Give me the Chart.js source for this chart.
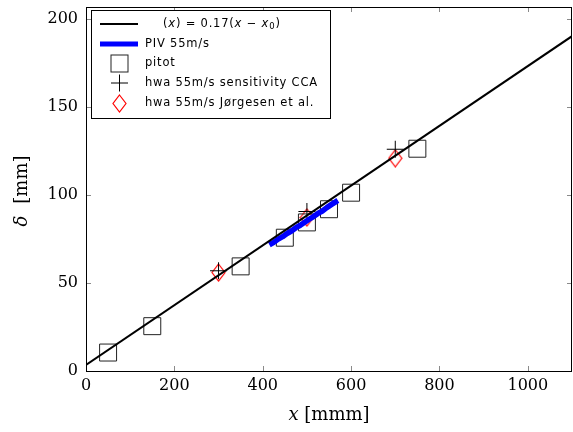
<!DOCTYPE html>
<html><head><meta charset="utf-8">
<script src="https://cdn.jsdelivr.net/npm/chart.js@4/dist/chart.umd.min.js"></script>
<style>html,body{margin:0;padding:0;background:#fff}#wrap{width:573px;height:432px}</style>
</head><body><div id="wrap"><canvas id="c" width="573" height="432"></canvas></div>
<script>
// ---- data ----
const fitX = [0, 1100];
const fitY = [3.4, 190.4];
const pivX = [415, 425, 435, 445, 455, 465, 475, 485, 495, 505, 515, 525, 535, 545, 555, 565, 570];
const pivY = [71.8, 73.2, 75.0, 76.4, 78.2, 79.6, 81.5, 82.9, 84.6, 86.3, 87.8, 89.6, 91.0, 92.9, 94.6, 96.2, 97.0];
const pitotX = [50, 150, 350, 450, 500, 550, 600, 750];
const pitotY = [10.5, 25.5, 59.5, 75.8, 84.5, 92.0, 101.4, 126.4];
const ccaX = [300, 500, 700];
const ccaY = [57.0, 90.7, 126.1];
const jorX = [300, 500, 700];
const jorY = [56.0, 87.3, 121.0];
const xTicks = [0, 200, 400, 600, 800, 1000];
const yTicks = [0, 50, 100, 150, 200];
const seriesLabels = ['(x) = 0.17(x \u2212 x\u2080)', 'PIV 55m/s', 'pitot', 'hwa 55m/s sensitivity CCA', 'hwa 55m/s J\u00f8rgesen et al.'];
const xTitle = ['x', ' [mmm]'];
const yTitle = ['\u03b4', '[mm]'];

const pts = (xs, ys) => xs.map((x, i) => ({x: x, y: ys[i]}));

function diamondImg() {
  const c = document.createElement('canvas');
  c.width = 15; c.height = 19;
  const g = c.getContext('2d');
  g.strokeStyle = '#ff0000'; g.lineWidth = 1.2;
  g.beginPath(); g.moveTo(7.5, 1); g.lineTo(14, 9.5); g.lineTo(7.5, 18); g.lineTo(1, 9.5); g.closePath(); g.stroke();
  return c;
}
const dia = diamondImg();

const frameTicks = {
  id: 'frameTicks',
  afterDatasetsDraw(chart) {
    const {ctx, chartArea: a, scales} = chart;
    ctx.save();
    ctx.strokeStyle = '#8a8a8a'; ctx.lineWidth = 1;
    ctx.beginPath();
    xTicks.forEach(v => {
      const p = Math.round(scales.x.getPixelForValue(v)) + 0.5;
      ctx.moveTo(p, a.bottom); ctx.lineTo(p, a.bottom - 5);
      ctx.moveTo(p, a.top); ctx.lineTo(p, a.top + 5);
    });
    yTicks.forEach(v => {
      const p = Math.round(scales.y.getPixelForValue(v)) + 0.5;
      ctx.moveTo(a.left, p); ctx.lineTo(a.left + 5, p);
      ctx.moveTo(a.right, p); ctx.lineTo(a.right - 5, p);
    });
    ctx.stroke();
    ctx.strokeStyle = '#000'; ctx.lineWidth = 1;
    ctx.strokeRect(Math.round(a.left) + 0.5, Math.round(a.top) + 0.5, Math.round(a.right - a.left) - 1, Math.round(a.bottom - a.top));
    ctx.restore();
  }
};

function drawParts(ctx, parts, x, y) {
  parts.forEach(p => {
    ctx.font = p.f;
    ctx.fillText(p.t, x, y + (p.dy || 0));
    x += ctx.measureText(p.t).width + (p.gap || 0);
  });
  return x;
}
function partsWidth(ctx, parts) {
  let w = 0;
  parts.forEach(p => { ctx.font = p.f; w += ctx.measureText(p.t).width + (p.gap || 0); });
  return w;
}

const legendTitles = {
  id: 'legendTitles',
  afterDraw(chart) {
    const {ctx, chartArea: a} = chart;
    ctx.save();
    // legend box
    const L = 91, T = 10, W = 239, H = 108;
    ctx.fillStyle = '#fff';
    ctx.fillRect(L, T, W, H);
    ctx.strokeStyle = '#000'; ctx.lineWidth = 1;
    ctx.strokeRect(L + 0.5, T + 0.5, W, H);
    const rows = [24, 44, 63.5, 83, 103];
    const cx = 119.5;
    const ds = chart.data.datasets;
    ctx.strokeStyle = ds[0].borderColor; ctx.lineWidth = 2;
    ctx.beginPath(); ctx.moveTo(100, rows[0]); ctx.lineTo(138, rows[0]); ctx.stroke();
    ctx.strokeStyle = ds[1].borderColor; ctx.lineWidth = 5;
    ctx.beginPath(); ctx.moveTo(100, rows[1]); ctx.lineTo(138, rows[1]); ctx.stroke();
    ctx.strokeStyle = '#222'; ctx.lineWidth = 1;
    ctx.strokeRect(cx - 8.5, rows[2] - 8.5, 17, 17);
    ctx.strokeStyle = '#000';
    ctx.beginPath();
    ctx.moveTo(cx - 8.5, rows[3]); ctx.lineTo(cx + 8.5, rows[3]);
    ctx.moveTo(cx, rows[3] - 8.5); ctx.lineTo(cx, rows[3] + 8.5);
    ctx.stroke();
    ctx.drawImage(dia, Math.round(cx - 7.5), Math.round(rows[4] - 9.5));
    // texts
    ctx.fillStyle = '#000'; ctx.textBaseline = 'middle'; ctx.textAlign = 'left';
    ctx.letterSpacing = '0.8px';
    const nf = '11.5px "DejaVu Sans"', itf = 'italic 11.5px "DejaVu Sans"', sf = '8.5px "DejaVu Sans"';
    drawParts(ctx, [
      {t: '(', f: nf}, {t: 'x', f: itf}, {t: ') = 0.17(', f: nf}, {t: 'x', f: itf},
      {t: ' \u2212 ', f: nf}, {t: 'x', f: itf}, {t: '0', f: sf, dy: 3}, {t: ')', f: nf}
    ], 163, rows[0]);
    ctx.font = nf;
    for (let i = 1; i < 5; i++) ctx.fillText(ds[i].label, 145, rows[i]);
    ctx.letterSpacing = '0px';

    // axis titles
    ctx.textBaseline = 'alphabetic';
    const xp = [{t: xTitle[0], f: 'italic 18px "DejaVu Serif"'}, {t: xTitle[1], f: '18px "DejaVu Serif"'}];
    const xw = partsWidth(ctx, xp);
    drawParts(ctx, xp, (a.left + a.right) / 2 - xw / 2, 420);
    ctx.translate(27, (a.top + a.bottom) / 2 + 2);
    ctx.rotate(-Math.PI / 2);
    const yp = [{t: yTitle[0], f: 'italic 18px "DejaVu Serif"', gap: 12}, {t: yTitle[1], f: '18px "DejaVu Serif"'}];
    const yw = partsWidth(ctx, yp);
    drawParts(ctx, yp, -yw / 2, 0);
    ctx.restore();
  }
};

const tickFont = {family: '"DejaVu Serif"', size: 16};

new Chart(document.getElementById('c'), {
  type: 'scatter',
  data: {
    datasets: [
      {label: seriesLabels[0], data: pts(fitX, fitY), showLine: true, borderColor: '#000', borderWidth: 2, pointRadius: 0, fill: false},
      {label: seriesLabels[1], data: pts(pivX, pivY), showLine: true, borderColor: '#0000ff', borderWidth: 5.5, pointRadius: 0, fill: false, borderJoinStyle: 'round'},
      {label: seriesLabels[2], data: pts(pitotX, pitotY), pointStyle: 'rect', pointRadius: 12, borderColor: '#222', borderWidth: 1, backgroundColor: 'rgba(0,0,0,0)'},
      {label: seriesLabels[3], data: pts(ccaX, ccaY), pointStyle: 'cross', pointRadius: 8.5, borderColor: '#000', borderWidth: 1},
      {label: seriesLabels[4], data: pts(jorX, jorY), pointStyle: dia, pointRadius: 9, borderColor: '#ff0000'}
    ]
  },
  options: {
    responsive: false,
    animation: false,
    layout: {autoPadding: false, padding: {left: 0, right: 1, top: 7, bottom: 0}},
    plugins: {legend: {display: false}, tooltip: {enabled: false}},
    scales: {
      x: {
        type: 'linear', min: 0, max: 1100,
        afterBuildTicks: s => { s.ticks = xTicks.map(v => ({value: v})); },
        afterFit: s => { s.height = 61; s.paddingLeft = 0; s.paddingRight = 0; },
        ticks: {font: tickFont, color: '#000', padding: 5, maxRotation: 0, callback: v => String(v)},
        grid: {display: false, drawTicks: false},
        border: {display: false}
      },
      y: {
        type: 'linear', min: 0, max: 207,
        afterBuildTicks: s => { s.ticks = yTicks.map(v => ({value: v})); },
        afterFit: s => { s.width = 86; s.paddingTop = 0; s.paddingBottom = 0; },
        ticks: {font: tickFont, color: '#000', padding: 8, callback: v => String(v)},
        grid: {display: false, drawTicks: false},
        border: {display: false}
      }
    }
  },
  plugins: [frameTicks, legendTitles]
});
</script>
</body></html>
